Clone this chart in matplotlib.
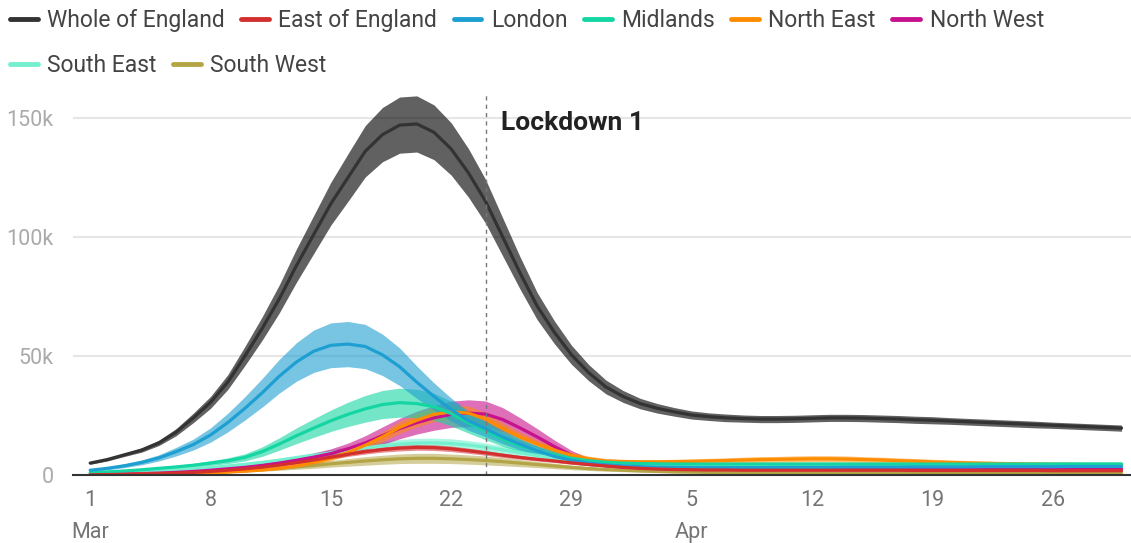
import numpy as np
import pandas as pd
import matplotlib.pyplot as plt
from matplotlib.lines import Line2D

plt.rcParams['font.family'] = ['Roboto', 'DejaVu Sans']

# daily estimates (thousands) with +/- half width of the uncertainty band
dates = pd.date_range('2020-03-01', '2020-04-30')
lockdown = pd.Timestamp('2020-03-24')

whole = [5.0, 6.5, 8.5, 10.5, 13.5, 18, 24, 30.5, 39, 50,
         61.5, 74, 88, 101, 114, 125, 136, 143, 147, 147.5,
         144, 137, 127, 115, 100, 85, 71, 60, 50.5, 43,
         37, 33, 30, 28, 26.5, 25.2, 24.5, 24, 23.7, 23.5,
         23.5, 23.6, 23.8, 24, 24, 23.9, 23.7, 23.5, 23.2, 23,
         22.7, 22.4, 22.1, 21.8, 21.5, 21.2, 20.9, 20.6, 20.3, 20.0, 19.7]
whole_err = [0.5, 0.6, 0.7, 0.9, 1.1, 1.5, 2.0, 2.5, 3.1, 4.0,
             4.9, 5.9, 7.0, 8.0, 9.0, 10.0, 10.8, 11.4, 11.8, 11.8,
             11.5, 11.0, 10.2, 9.2, 8.0, 6.8, 5.7, 4.8, 4.0, 3.4,
             2.9, 2.5, 2.2, 2.0, 1.8, 1.7, 1.6, 1.6, 1.5, 1.5,
             1.5, 1.5, 1.5, 1.5, 1.5, 1.5, 1.5, 1.5, 1.5, 1.5,
             1.4, 1.4, 1.4, 1.4, 1.4, 1.4, 1.3, 1.3, 1.3, 1.3, 1.3]

east = [0.1, 0.2, 0.3, 0.4, 0.6, 0.8, 1.1, 1.5, 2.0, 2.6,
        3.3, 4.2, 5.2, 6.3, 7.5, 8.7, 9.8, 10.7, 11.3, 11.6,
        11.5, 11.0, 10.2, 9.3, 8.3, 7.4, 6.6, 5.9, 5.1, 4.4,
        3.8, 3.2, 2.8, 2.5, 2.3, 2.2, 2.1, 2.1, 2.0, 2.0,
        2.0, 2.0, 2.0, 2.0, 2.0, 2.0, 2.0, 2.0, 1.9, 1.9,
        1.9, 1.9, 1.9, 1.9, 1.9, 1.9, 1.8, 1.8, 1.8, 1.8, 1.8]
east_err = [0.02, 0.03, 0.04, 0.05, 0.07, 0.1, 0.13, 0.17, 0.22, 0.28,
            0.35, 0.45, 0.55, 0.65, 0.8, 0.9, 1.0, 1.1, 1.2, 1.2,
            1.2, 1.15, 1.1, 1.0, 0.9, 0.8, 0.7, 0.65, 0.6, 0.5,
            0.45, 0.4, 0.35, 0.3, 0.3, 0.3, 0.3, 0.3, 0.3, 0.3,
            0.3, 0.3, 0.3, 0.3, 0.3, 0.3, 0.3, 0.3, 0.3, 0.3,
            0.3, 0.3, 0.3, 0.3, 0.3, 0.3, 0.3, 0.3, 0.3, 0.3, 0.3]

london = [2.0, 2.8, 3.9, 5.3, 7.2, 9.8, 12.8, 16.8, 22.0, 28.0,
          34.5, 41.5, 47.5, 52.0, 54.5, 55.0, 54.0, 50.5, 45.5, 39.0,
          33.0, 27.5, 22.8, 19.5, 16.0, 13.0, 10.2, 7.8, 6.2, 5.0,
          4.2, 3.8, 3.5, 3.3, 3.2, 3.1, 3.1, 3.1, 3.1, 3.1,
          3.2, 3.2, 3.2, 3.2, 3.3, 3.3, 3.3, 3.3, 3.4, 3.4,
          3.4, 3.4, 3.5, 3.5, 3.5, 3.5, 3.5, 3.6, 3.6, 3.6, 3.6]
london_err = [0.5, 0.6, 0.8, 1.0, 1.3, 1.8, 2.3, 3.0, 3.9, 4.9,
              6.0, 7.1, 8.1, 8.9, 9.4, 9.5, 9.3, 8.7, 7.9, 6.8,
              5.7, 4.8, 4.0, 3.4, 2.9, 2.4, 2.0, 1.6, 1.3, 1.1,
              0.9, 0.8, 0.7, 0.6, 0.6, 0.6, 0.6, 0.6, 0.6, 0.6,
              0.6, 0.6, 0.6, 0.6, 0.6, 0.6, 0.6, 0.6, 0.6, 0.6,
              0.6, 0.6, 0.6, 0.6, 0.6, 0.6, 0.6, 0.6, 0.6, 0.6, 0.6]

midlands = [1.0, 1.3, 1.7, 2.2, 2.8, 3.4, 4.1, 5.0, 6.0, 7.4,
            9.8, 13.0, 16.5, 19.7, 22.8, 25.5, 27.8, 29.6, 30.4, 30.0,
            28.7, 25.8, 22.0, 18.5, 15.0, 12.3, 10.2, 8.4, 7.0, 6.0,
            5.4, 5.0, 4.8, 4.7, 4.6, 4.6, 4.6, 4.6, 4.6, 4.6,
            4.6, 4.6, 4.6, 4.6, 4.6, 4.6, 4.6, 4.6, 4.6, 4.6,
            4.6, 4.6, 4.6, 4.6, 4.6, 4.6, 4.6, 4.6, 4.6, 4.6, 4.6]
midlands_err = [0.2, 0.3, 0.35, 0.45, 0.55, 0.7, 0.8, 1.0, 1.2, 1.5,
                2.0, 2.6, 3.3, 3.9, 4.5, 5.1, 5.6, 5.9, 6.1, 6.0,
                5.7, 5.2, 4.4, 3.7, 3.0, 2.5, 2.0, 1.7, 1.4, 1.2,
                1.0, 0.9, 0.8, 0.7, 0.7, 0.7, 0.7, 0.7, 0.7, 0.7,
                0.7, 0.7, 0.7, 0.7, 0.7, 0.7, 0.7, 0.7, 0.7, 0.7,
                0.7, 0.7, 0.7, 0.7, 0.7, 0.7, 0.7, 0.7, 0.7, 0.7, 0.7]

north_east = [0.1, 0.15, 0.2, 0.3, 0.4, 0.5, 0.7, 0.9, 1.2, 1.6,
              2.1, 2.8, 3.8, 5.2, 7.0, 9.5, 12.5, 16.0, 20.0, 23.0,
              25.5, 26.5, 26.0, 23.5, 19.5, 16.0, 13.0, 10.5, 8.3, 6.8,
              5.9, 5.6, 5.5, 5.5, 5.6, 5.7, 5.9, 6.1, 6.3, 6.5,
              6.6, 6.7, 6.8, 6.8, 6.7, 6.5, 6.3, 6.0, 5.8, 5.5,
              5.3, 5.1, 4.9, 4.8, 4.7, 4.6, 4.5, 4.5, 4.4, 4.4, 4.4]
north_east_err = [0.05, 0.05, 0.05, 0.1, 0.1, 0.1, 0.15, 0.2, 0.25, 0.3,
                  0.4, 0.5, 0.6, 0.8, 1.0, 1.3, 1.7, 2.1, 2.5, 2.8,
                  3.0, 3.1, 3.0, 2.8, 2.4, 2.0, 1.7, 1.4, 1.2, 1.1,
                  1.0, 1.0, 1.0, 1.0, 1.0, 1.1, 1.1, 1.1, 1.2, 1.2,
                  1.2, 1.3, 1.3, 1.3, 1.3, 1.2, 1.2, 1.2, 1.1, 1.1,
                  1.0, 1.0, 1.0, 0.9, 0.9, 0.9, 0.9, 0.9, 0.9, 0.9, 0.9]

north_west = [0.2, 0.3, 0.4, 0.6, 0.8, 1.1, 1.5, 2.0, 2.6, 3.2,
              4.0, 5.0, 6.2, 7.5, 9.0, 11.0, 13.5, 16.5, 19.5, 22.0,
              24.0, 25.5, 26.0, 25.6, 23.3, 19.8, 16.0, 12.0, 8.3, 5.8,
              4.4, 3.5, 3.0, 2.7, 2.6, 2.5, 2.5, 2.5, 2.5, 2.5,
              2.5, 2.5, 2.5, 2.5, 2.5, 2.5, 2.5, 2.5, 2.5, 2.5,
              2.5, 2.5, 2.6, 2.6, 2.6, 2.6, 2.6, 2.6, 2.6, 2.6, 2.6]
north_west_err = [0.05, 0.07, 0.1, 0.13, 0.18, 0.25, 0.33, 0.45, 0.6, 0.7,
                  0.9, 1.1, 1.4, 1.7, 2.0, 2.4, 3.0, 3.7, 4.3, 4.8,
                  5.2, 5.5, 5.6, 5.5, 5.0, 4.3, 3.5, 2.7, 2.0, 1.4,
                  1.0, 0.8, 0.7, 0.6, 0.6, 0.6, 0.6, 0.6, 0.6, 0.6,
                  0.6, 0.6, 0.6, 0.6, 0.6, 0.6, 0.6, 0.6, 0.6, 0.6,
                  0.6, 0.6, 0.6, 0.6, 0.6, 0.6, 0.6, 0.6, 0.6, 0.6, 0.6]

south_east = [0.8, 1.0, 1.2, 1.5, 1.8, 2.2, 2.7, 3.2, 3.8, 4.5,
              5.3, 6.2, 7.2, 8.2, 9.3, 10.4, 11.4, 12.3, 13.0, 13.4,
              13.5, 13.2, 12.6, 11.7, 10.6, 9.4, 8.2, 7.1, 6.2, 5.5,
              5.0, 4.7, 4.5, 4.4, 4.4, 4.4, 4.4, 4.4, 4.4, 4.4,
              4.4, 4.4, 4.4, 4.4, 4.4, 4.4, 4.4, 4.5, 4.5, 4.5,
              4.5, 4.5, 4.5, 4.5, 4.5, 4.6, 4.6, 4.6, 4.6, 4.6, 4.6]
south_east_err = [0.15, 0.15, 0.2, 0.25, 0.3, 0.35, 0.4, 0.5, 0.6, 0.7,
                  0.8, 0.95, 1.1, 1.25, 1.4, 1.55, 1.7, 1.85, 1.95, 2.0,
                  2.0, 2.0, 1.9, 1.75, 1.6, 1.4, 1.25, 1.1, 0.95, 0.85,
                  0.75, 0.7, 0.7, 0.7, 0.7, 0.7, 0.7, 0.7, 0.7, 0.7,
                  0.7, 0.7, 0.7, 0.7, 0.7, 0.7, 0.7, 0.7, 0.7, 0.7,
                  0.7, 0.7, 0.7, 0.7, 0.7, 0.7, 0.7, 0.7, 0.7, 0.7, 0.7]

south_west = [0.1, 0.15, 0.2, 0.3, 0.45, 0.6, 0.8, 1.1, 1.4, 1.8,
              2.3, 2.8, 3.4, 4.0, 4.7, 5.3, 5.9, 6.4, 6.8, 7.0,
              7.0, 6.8, 6.5, 6.1, 5.6, 5.0, 4.4, 3.8, 3.2, 2.7,
              2.3, 2.0, 1.7, 1.5, 1.3, 1.2, 1.1, 1.1, 1.1, 1.1,
              1.1, 1.1, 1.1, 1.1, 1.1, 1.1, 1.1, 1.1, 1.1, 1.0,
              1.0, 1.0, 1.0, 1.0, 1.0, 1.0, 1.0, 1.0, 1.0, 1.0, 1.0]
south_west_err = [0.03, 0.05, 0.06, 0.09, 0.13, 0.18, 0.24, 0.33, 0.42, 0.55,
                  0.7, 0.85, 1.0, 1.2, 1.4, 1.6, 1.8, 1.9, 2.0, 2.1,
                  2.1, 2.0, 1.95, 1.85, 1.7, 1.5, 1.3, 1.15, 0.95, 0.8,
                  0.7, 0.6, 0.5, 0.45, 0.4, 0.35, 0.35, 0.35, 0.35, 0.35,
                  0.35, 0.35, 0.35, 0.35, 0.35, 0.35, 0.35, 0.35, 0.35, 0.35,
                  0.35, 0.35, 0.35, 0.35, 0.35, 0.35, 0.35, 0.35, 0.35, 0.35, 0.35]

names = ['Whole of England', 'East of England', 'London', 'Midlands',
         'North East', 'North West', 'South East', 'South West']
values = [whole, east, london, midlands, north_east, north_west, south_east, south_west]
errors = [whole_err, east_err, london_err, midlands_err,
          north_east_err, north_west_err, south_east_err, south_west_err]
colors = ['#333333', '#d32f2f', '#1e9fd1', '#14d6a2',
          '#ff8c00', '#c8118c', '#74f0cf', '#b3a545']
band_alpha = [0.62, 0.55, 0.6, 0.6, 0.55, 0.6, 0.6, 0.55]

x = (dates - dates[0]).days.values
lock_x = (lockdown - dates[0]).days

fig = plt.figure(figsize=(11.31, 5.43), dpi=100)
ax = fig.add_axes([73 / 1131, 68 / 543, 1058 / 1131, 382 / 543])

# regions first, England on top
order = [7, 6, 5, 4, 3, 2, 1, 0]
for i in order:
    v = np.array(values[i])
    e = np.array(errors[i])
    band_col = '#000000' if i == 0 else colors[i]
    ax.fill_between(x, v - e, v + e, color=band_col, alpha=band_alpha[i],
                    linewidth=0, zorder=2)
for i in order:
    ax.plot(x, values[i], color=colors[i], lw=2.3, zorder=3,
            solid_capstyle='round')

ax.axvline(lock_x, color='#777777', lw=1, ls=(0, (3, 3)), zorder=4)
ax.annotate('Lockdown 1', xy=(lock_x, 148), xytext=(11, 0),
            textcoords='offset points', va='center', ha='left',
            fontsize=19, fontweight='bold', color='#222222')

ax.set_xlim(-1.0, 60.55)
ax.set_ylim(0, 160.5)

ax.set_yticks([0, 50, 100, 150])
ax.set_yticklabels(['0', '50k', '100k', '150k'])
tick_days = x[::7]
tick_labels = []
prev_month = None
for d in dates[::7]:
    lab = str(d.day)
    if d.month != prev_month:
        lab += '\n' + d.strftime('%b')
        prev_month = d.month
    tick_labels.append(lab)
ax.set_xticks(tick_days)
ax.set_xticklabels(tick_labels, linespacing=1.7, va='top')

ax.tick_params(axis='y', length=0, pad=14, labelsize=15.5, labelcolor='#aaaaaa')
ax.tick_params(axis='x', length=0, pad=11, labelsize=15.5, labelcolor='#757575')
ax.grid(axis='y', color='#e6e6e6', lw=1.5, zorder=0)
ax.set_axisbelow(True)
for s in ['top', 'right', 'left']:
    ax.spines[s].set_visible(False)
ax.spines['bottom'].set_color('#333333')
ax.spines['bottom'].set_linewidth(1.5)
ax.spines['bottom'].set_zorder(5)

handles = [Line2D([], [], color=c, lw=3.5, solid_capstyle='round') for c in colors]
leg_kw = dict(frameon=False, fontsize=16.5, handlelength=1.2, handletextpad=0.42,
              columnspacing=0.72, borderpad=0, borderaxespad=0, labelcolor='#444444')
fig.legend(handles[:6], names[:6], ncol=6, loc='upper left',
           bbox_to_anchor=(10 / 1131, 1 - 9 / 543), **leg_kw)
fig.legend(handles[6:], names[6:], ncol=2, loc='upper left',
           bbox_to_anchor=(10 / 1131, 1 - 54 / 543), **leg_kw)

fig.savefig('out.png', dpi=100)
